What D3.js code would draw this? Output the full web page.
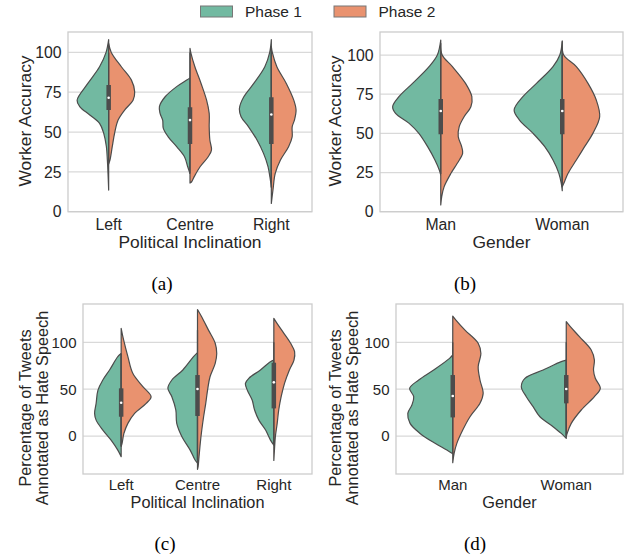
<!doctype html>
<html lang="en">
<head>
  <meta charset="utf-8">
  <title>Worker accuracy and hate speech annotation</title>
  <style>
    body { margin: 0; background: #fff; }
    svg { display: block; font-family: "Liberation Sans", Arial, sans-serif; }
    .grid line { stroke: #d9d9d9; stroke-width: 1.2; }
    .frame { fill: none; stroke: #cccccc; stroke-width: 1.3; }
    .violin { stroke: #4c4c4c; stroke-width: 1.2; stroke-linejoin: round; }
    .tick { fill: #262626; }
    .caption { font-family: "Liberation Serif", "Times New Roman", serif; fill: #000; }
  </style>
</head>
<body>
  <div id="chart"></div>
  <script src="https://cdn.jsdelivr.net/npm/d3@7/dist/d3.min.js"></script>
  <script>
// categories and tick labels
var politics = ["Left", "Centre", "Right"];
var gender = ["Man", "Woman"];
var accTicks = [0, 25, 50, 75, 100];
var hateTicks = [0, 50, 100];
var phases = ["Phase 1", "Phase 2"];

// violin outlines: [value, relative half width]
var accPolP1 = [
  [[108,0],[100,.08],[91,.28],[80.5,.64],[70,.97],[66,.89],[60.7,.58],[55.4,.28],[49,.15],[40.8,.07],[32.4,.04],[24,.02],[13.6,0]],
  [[84,0],[82.6,.10],[78.5,.41],[72,.77],[66,.94],[61.7,.92],[57.5,.84],[52.3,.82],[47,.67],[40.8,.41],[34.5,.17],[28.2,.07],[24,0]],
  [[108,0],[100,.05],[91,.20],[80.5,.54],[72,.85],[64.9,.98],[59.6,.93],[53.3,.70],[45,.44],[36.6,.24],[28.2,.10],[19.9,.03],[15.7,0]]
];
var accPolP2 = [
  [[105.6,0],[100,.08],[91,.39],[82.6,.70],[75.3,.80],[70,.75],[63.8,.49],[57.5,.29],[49,.18],[40.8,.11],[32.4,.04],[30,0]],
  [[102.5,0],[99.4,.03],[91,.15],[80.5,.34],[70,.51],[61.7,.59],[53.3,.59],[45,.61],[38.7,.66],[34.5,.56],[28.2,.31],[22,.13],[18.8,.05],[18,0]],
  [[103.6,0],[100,.03],[91,.17],[80.5,.46],[70,.69],[63.8,.76],[57.5,.71],[53.3,.64],[47,.64],[40.8,.53],[32.4,.28],[24,.12],[13.6,.05],[5.2,0]]
];
var accGenP1 = [
  [[109.6,0],[100,.07],[92.6,.24],[81.9,.58],[73.4,.86],[67,.99],[62.8,.93],[56.4,.65],[50,.45],[41.5,.27],[33,.12],[26.6,.03],[23.4,0]],
  [[109,0],[100,.05],[92.6,.19],[81.9,.53],[73.4,.81],[64.9,.99],[58.5,.88],[50,.60],[41.5,.36],[33,.19],[24.5,.07],[18,.02],[13.4,0]]
];
var accGenP2 = [
  [[107.4,0],[100,.03],[92.6,.24],[81.9,.51],[73.4,.64],[67,.62],[60.6,.48],[54.3,.38],[47.9,.36],[41.5,.43],[37.2,.45],[30.9,.34],[24.5,.21],[16,.07],[9.6,.02],[4.3,0]],
  [[108.5,0],[100,.03],[92.6,.29],[81.9,.53],[71.3,.70],[60.6,.77],[50,.63],[41.5,.46],[33,.29],[24.5,.12],[18,.03],[16,0]]
];
var hatePolP1 = [
  [[88,0],[84.7,.11],[70.5,.38],[59.8,.60],[49,.76],[34.9,.82],[24.2,.87],[17,.82],[6.4,.60],[-4.3,.33],[-15,.11],[-22,0]],
  [[89,0],[84.7,.13],[70.5,.48],[59.8,.84],[50.9,.97],[42,.84],[27.8,.71],[13.5,.68],[-0.7,.51],[-15,.24],[-25.6,.08],[-29,0]],
  [[81,0],[79.4,.11],[70.5,.44],[61.6,.82],[56.2,.93],[49,.87],[38.4,.71],[27.8,.63],[17,.49],[6.4,.27],[-4.3,.11],[-9.6,0]]
];
var hatePolP2 = [
  [[115,0],[102.5,.08],[84.7,.22],[66.9,.38],[52.7,.71],[42,.98],[34.9,.82],[24.2,.44],[13.5,.22],[2.8,.09],[-7.8,.03],[-11,0]],
  [[135,0],[127,.14],[113,.36],[99,.58],[88,.63],[77.6,.58],[63.3,.41],[49,.33],[34.9,.27],[20.6,.20],[6.4,.14],[-7.8,.09],[-22,.05],[-32.7,.02],[-35.6,0]],
  [[125.6,0],[120,.11],[109.6,.33],[99,.55],[90,.68],[81,.66],[70.5,.51],[56.2,.35],[42,.24],[27.8,.16],[13.5,.11],[-0.7,.05],[-15,.02],[-26,0]]
];
var hateGenP1 = [
  [[86.5,0],[82.9,.07],[70.5,.42],[59.8,.75],[50.9,.95],[42,.86],[33.1,.90],[24.2,.99],[13.5,.94],[2.8,.72],[-7.8,.39],[-15,.13],[-19,0]],
  [[81,0],[79.4,.11],[70.5,.51],[61.6,.91],[52.7,.99],[42,.88],[31.3,.73],[20.6,.58],[10,.29],[2.8,.11],[-2.5,0]]
];
var hateGenP2 = [
  [[128,0],[123.8,.07],[113,.27],[99,.56],[88,.62],[74,.56],[59.8,.60],[45.6,.67],[34.9,.60],[20.6,.38],[6.4,.22],[-7.8,.09],[-18.5,.03],[-28.5,0]],
  [[122,0],[116.7,.09],[106,.29],[91.8,.55],[81,.62],[70.5,.60],[61.6,.64],[50.9,.75],[42,.62],[27.8,.33],[13.5,.11],[2.8,.02],[-0.7,0]]
];

// inner box: [whisker low, q1, median, q3, whisker high]
var accPolBox = [[32,63.8,71.5,79.5,100],[24,42.5,57.5,65.5,100],[15,42.5,61,71.8,100]];
var accGenBox = [[24,49.4,64.3,71.9,100],[18,49.4,64.3,71.9,100]];
var hatePolBox = [[-11,20.6,35.6,50.9,88],[-25,21.4,50.2,65.1,113],[-9,29.5,57.3,78.3,100]];
var hateGenBox = [[-19,19.9,42.7,65.1,100],[0,34.9,50.2,65.1,100]];

(function(){
  var width = 627, height = 559;
  var green = "#72b9a1", orange = "#e9926f";

  var svg = d3.select("#chart").append("svg")
      .attr("width", width)
      .attr("height", height);

  var panels = [
    { x0: 68, x1: 312, y0: 32, y1: 211.7, dom: [0, 112.8], cats: politics, ticks: accTicks,
      p1: accPolP1, p2: accPolP2, box: accPolBox, ylab: ["Worker Accuracy"], ylabX: [25], ylabY: 121,
      xlab: "Political Inclination", tickY: 224.5, xlabY: 242, tfs: 15.8, lfs: 17.4, cap: "(a)", capX: 162, capY: 290 },
    { x0: 380, x1: 623, y0: 32, y1: 211.7, dom: [0, 114.7], cats: gender, ticks: accTicks,
      p1: accGenP1, p2: accGenP2, box: accGenBox, ylab: ["Worker Accuracy"], ylabX: [335], ylabY: 121,
      xlab: "Gender", tickY: 224.5, xlabY: 242, tfs: 15.8, lfs: 17.4, cap: "(b)", capX: 465, capY: 290 },
    { x0: 83, x1: 312, y0: 304, y1: 474, dom: [-40.5, 140.9], cats: politics, ticks: hateTicks,
      p1: hatePolP1, p2: hatePolP2, box: hatePolBox, ylab: ["Percentage of Tweets", "Annotated as Hate Speech"], ylabX: [25, 41.7], ylabY: 408,
      xlab: "Political Inclination", tickY: 485, xlabY: 502.5, tfs: 15, lfs: 16.3, cap: "(c)", capX: 165, capY: 550 },
    { x0: 396, x1: 623, y0: 304, y1: 474, dom: [-40.5, 140.9], cats: gender, ticks: hateTicks,
      p1: hateGenP1, p2: hateGenP2, box: hateGenBox, ylab: ["Percentage of Tweets", "Annotated as Hate Speech"], ylabX: [335, 351.7], ylabY: 408,
      xlab: "Gender", tickY: 485, xlabY: 502.5, tfs: 15, lfs: 16.3, cap: "(d)", capX: 475, capY: 550 }
  ];

  panels.forEach(function(p, pi){
    var x = d3.scaleBand().domain(p.cats).range([p.x0, p.x1]).padding(0);
    var y = d3.scaleLinear().domain(p.dom).range([p.y1, p.y0]);
    var half = x.bandwidth() * 0.4;
    var g = svg.append("g");

    g.append("clipPath").attr("id", "clip" + pi)
      .append("rect").attr("x", p.x0).attr("y", p.y0)
      .attr("width", p.x1 - p.x0).attr("height", p.y1 - p.y0);

    // horizontal grid
    g.append("g").attr("class", "grid")
      .selectAll("line").data(p.ticks).enter().append("line")
      .attr("x1", p.x0).attr("x2", p.x1)
      .attr("y1", function(d){ return y(d); })
      .attr("y2", function(d){ return y(d); });

    var plot = g.append("g").attr("clip-path", "url(#clip" + pi + ")");

    p.cats.forEach(function(c, i){
      var cx = x(c) + x.bandwidth() / 2;
      var left = d3.area().curve(d3.curveCatmullRom.alpha(0.5))
        .y(function(d){ return y(d[0]); })
        .x0(cx)
        .x1(function(d){ return cx - d[1] * half; });
      var right = d3.area().curve(d3.curveCatmullRom.alpha(0.5))
        .y(function(d){ return y(d[0]); })
        .x0(cx)
        .x1(function(d){ return cx + d[1] * half; });

      plot.append("path").attr("class", "violin").attr("fill", green).attr("d", left(p.p1[i]));
      plot.append("path").attr("class", "violin").attr("fill", orange).attr("d", right(p.p2[i]));

      var b = p.box[i];
      plot.append("line")
        .attr("x1", cx).attr("x2", cx)
        .attr("y1", y(b[0])).attr("y2", y(b[4]))
        .attr("stroke", "#4c4c4c").attr("stroke-width", 1.3);
      plot.append("line")
        .attr("x1", cx).attr("x2", cx)
        .attr("y1", y(b[1])).attr("y2", y(b[3]))
        .attr("stroke", "#4c4c4c").attr("stroke-width", 4.5);
      plot.append("circle")
        .attr("cx", cx).attr("cy", y(b[2])).attr("r", 1.3)
        .attr("fill", "#fff");
    });

    g.append("rect").attr("class", "frame")
      .attr("x", p.x0).attr("y", p.y0)
      .attr("width", p.x1 - p.x0).attr("height", p.y1 - p.y0);

    // y tick labels
    g.selectAll(".ytick").data(p.ticks).enter().append("text")
      .attr("class", "tick")
      .attr("x", p.x0 - 6.5)
      .attr("y", function(d){ return y(d); })
      .attr("dy", "0.36em")
      .attr("text-anchor", "end")
      .style("font-size", p.tfs + "px")
      .text(function(d){ return d; });

    // x tick labels
    g.selectAll(".xtick").data(p.cats).enter().append("text")
      .attr("class", "tick")
      .attr("x", function(d){ return x(d) + x.bandwidth() / 2; })
      .attr("y", p.tickY)
      .attr("dy", "0.36em")
      .attr("text-anchor", "middle")
      .style("font-size", p.tfs + "px")
      .text(function(d){ return d; });

    g.append("text").attr("class", "tick")
      .attr("x", (p.x0 + p.x1) / 2).attr("y", p.xlabY)
      .attr("dy", "0.36em").attr("text-anchor", "middle")
      .style("font-size", p.lfs + "px")
      .text(p.xlab);

    p.ylab.forEach(function(t, k){
      g.append("text").attr("class", "tick")
        .attr("transform", "translate(" + p.ylabX[k] + "," + p.ylabY + ") rotate(-90)")
        .attr("dy", "0.36em").attr("text-anchor", "middle")
        .style("font-size", p.lfs + "px")
        .text(t);
    });

    g.append("text").attr("class", "caption")
      .attr("x", p.capX).attr("y", p.capY)
      .attr("text-anchor", "middle")
      .style("font-size", "19px")
      .text(p.cap);
  });

  // legend
  var legX = [200.5, 334];
  var leg = svg.append("g");
  phases.forEach(function(t, i){
    leg.append("rect")
      .attr("x", legX[i]).attr("y", 6)
      .attr("width", 32).attr("height", 11)
      .attr("fill", i === 0 ? green : orange)
      .attr("stroke", "#777").attr("stroke-width", 1);
    leg.append("text").attr("class", "tick")
      .attr("x", legX[i] + 44.5).attr("y", 11.5)
      .attr("dy", "0.36em")
      .style("font-size", "15.5px")
      .text(t);
  });
})();
  </script>
</body>
</html>
